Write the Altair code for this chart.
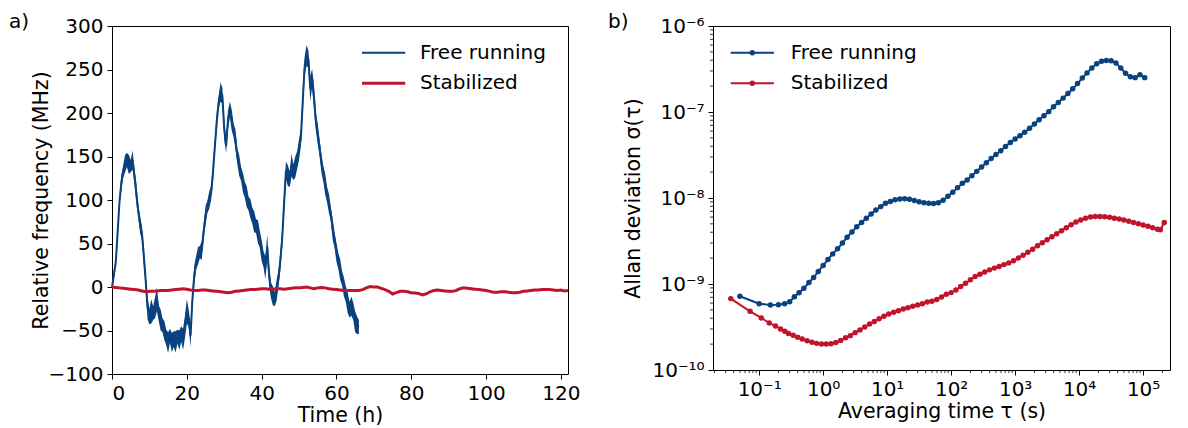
import altair as alt
import pandas as pd

FONT = "DejaVu Sans"
BLUE = "#0a427f"
RED = "#c0142c"
SERIES = ["Free running", "Stabilized"]

# ---------------- panel a: time series (MHz) ----------------
FREE_T = [0, 0.5, 1, 1.5, 2, 2.5, 3, 3.5, 4, 4.5,
          5, 5.5, 6, 6.5, 7, 7.5, 8, 8.5, 9, 9.5,
          10, 10.5, 11, 11.5, 12, 12.5, 13, 13.5, 14, 14.5,
          15, 15.5, 16, 16.5, 17, 17.5, 18, 18.5, 19, 19.5,
          20, 20.5, 21, 21.5, 22, 22.5, 23, 23.5, 24, 24.5,
          25, 25.5, 26, 26.5, 27, 27.5, 28, 28.5, 29, 29.5,
          30, 30.5, 31, 31.5, 32, 32.5, 33, 33.5, 34, 34.5,
          35, 35.5, 36, 36.5, 37, 37.5, 38, 38.5, 39, 39.5,
          40, 40.5, 41, 41.5, 42, 42.5, 43, 43.5, 44, 44.5,
          45, 45.5, 46, 46.5, 47, 47.5, 48, 48.5, 49, 49.5,
          50, 50.5, 51, 51.5, 52, 52.5, 53, 53.5, 54, 54.5,
          55, 55.5, 56, 56.5, 57, 57.5, 58, 58.5, 59, 59.5,
          60, 60.5, 61, 61.5, 62, 62.5, 63, 63.5, 64, 64.5,
          65, 65.5, 66]
FREE_V = [0, 14, 28, 62, 98, 120, 133, 142, 146, 141,
          139, 146, 128, 108, 88, 72, 62, 36, 8, -24,
          -34, -28, -30, -24, -14, -30, -38, -44, -50, -58,
          -64, -56, -64, -60, -63, -57, -61, -54, -60, -46,
          -28, -36, -56, -14, 14, 28, 36, 40, 42, 64,
          82, 92, 100, 108, 132, 162, 190, 212, 224, 220,
          182, 162, 192, 204, 192, 180, 170, 150, 140, 130,
          120, 112, 104, 96, 90, 82, 75, 70, 64, 55,
          42, 32, 22, 46, 14, -4, -10, -14, -4, 10,
          30, 56, 96, 134, 128, 124, 140, 132, 138, 146,
          158, 172, 214, 254, 266, 262, 228, 240, 218, 190,
          176, 160, 142, 130, 118, 106, 96, 84, 66, 54,
          40, 30, 20, 10, 0, -8, -18, -26, -22, -28,
          -40, -44, -46]
# half-width of the noise envelope around FREE_V
FREE_SPREAD = [3, 6, 5, 8, 6, 9, 7, 10, 8, 11,
               7, 11, 8, 12, 7, 10, 8, 11, 8, 13,
               9, 14, 8, 12, 14, 9, 12, 8, 11, 9,
               12, 8, 11, 9, 12, 8, 11, 9, 12, 13,
               14, 10, 13, 9, 11, 8, 10, 7, 11, 8,
               11, 7, 10, 8, 11, 8, 10, 7, 11, 9,
               12, 8, 11, 9, 12, 8, 11, 9, 12, 8,
               11, 9, 12, 8, 11, 9, 12, 8, 13, 10,
               12, 9, 13, 14, 12, 9, 11, 8, 12, 9,
               11, 9, 13, 10, 12, 9, 13, 9, 12, 10,
               12, 10, 14, 11, 12, 10, 14, 11, 13, 10,
               12, 9, 11, 9, 12, 9, 11, 8, 12, 9,
               11, 9, 12, 8, 11, 9, 12, 9, 11, 10,
               12, 10, 8]

STAB_T = list(range(0, 122)) + [121.9]
STAB_V = [0, -0.5, -1, -1.5, -2, -2.5, -3, -3.5, -4.5, -5.5,
          -5, -5, -4.5, -4, -4, -4, -3.5, -3, -2.5, -2,
          -2.5, -3.5, -4, -4, -3.5, -3.5, -4, -4.5, -5, -5.5,
          -6, -6.5, -6, -5, -4.5, -4, -3.5, -3, -3, -2.5,
          -2, -2, -2.5, -2.5, -2, -2, -2.5, -2, -1.5, -1,
          -1, -0.5, 0, -1, -2, -1, -0.5, -1, -2, -2.5,
          -3, -3.5, -4, -4, -4, -4, -4, -3, -1, 0.5,
          0, 0, -1.5, -3, -5, -8, -6.5, -5, -5, -5.5,
          -6.5, -7, -7.5, -9, -8, -5.5, -4, -3.5, -4, -4.5,
          -5, -5, -4, -2, -1, -1.5, -2, -2.5, -3, -3.5,
          -4, -5, -6, -6, -5.5, -5.5, -6, -6.5, -6.5, -6,
          -5, -4.5, -4, -3.5, -3.5, -3, -3, -3, -3.5, -4,
          -3.5, -4.5, -4]

A_XTICKS = [0, 20, 40, 60, 80, 100, 120]
A_YTICKS = [-100, -50, 0, 50, 100, 150, 200, 250, 300]

# ---------------- panel b: Allan deviation ----------------
FREE_TAU = [0.05, 0.10, 0.15, 0.20, 0.25, 0.30, 0.355, 0.42, 0.50, 0.60,
            0.71, 0.84, 1.0, 1.19, 1.41, 1.68, 2.0, 2.37, 2.82, 3.35,
            3.98, 4.73, 5.62, 6.68, 7.94, 9.44, 11.2, 13.3, 15.8, 18.8,
            22.4, 26.6, 31.6, 37.6, 44.7, 53.1, 63.1, 75.0, 89.1, 106,
            126, 150, 178, 211, 251, 299, 355, 422, 501, 596,
            708, 841, 1000, 1190, 1410, 1680, 2000, 2370, 2820, 3350,
            3980, 4730, 5620, 6680, 7940, 9440, 11200, 13300, 15800, 18800,
            22400, 26600, 31600, 37600, 44700, 53100, 63100, 75000, 89100, 106000]
FREE_ADEV = [7.2e-10, 5.9e-10, 5.7e-10, 5.75e-10, 5.9e-10, 6.2e-10, 7.1e-10, 7.9e-10, 8.9e-10, 1.04e-9,
             1.19e-9, 1.40e-9, 1.64e-9, 1.93e-9, 2.24e-9, 2.57e-9, 2.99e-9, 3.5e-9, 4.03e-9, 4.62e-9,
             5.19e-9, 5.82e-9, 6.53e-9, 7.24e-9, 7.94e-9, 8.71e-9, 9.12e-9, 9.55e-9, 9.73e-9, 9.82e-9,
             9.66e-9, 9.33e-9, 9.06e-9, 8.81e-9, 8.67e-9, 8.61e-9, 8.81e-9, 9.44e-9, 1.05e-8, 1.17e-8,
             1.32e-8, 1.48e-8, 1.62e-8, 1.82e-8, 2.04e-8, 2.29e-8, 2.57e-8, 2.88e-8, 3.20e-8, 3.55e-8,
             3.98e-8, 4.42e-8, 4.84e-8, 5.31e-8, 5.82e-8, 6.46e-8, 7.24e-8, 8.13e-8, 9.02e-8, 1.01e-7,
             1.15e-7, 1.29e-7, 1.45e-7, 1.64e-7, 1.86e-7, 2.14e-7, 2.48e-7, 2.85e-7, 3.24e-7, 3.63e-7,
             3.89e-7, 3.98e-7, 3.94e-7, 3.72e-7, 3.24e-7, 2.82e-7, 2.57e-7, 2.51e-7, 2.72e-7, 2.51e-7]

STAB_TAU = [0.036, 0.072, 0.108, 0.144, 0.18, 0.216, 0.252, 0.288, 0.34, 0.40,
            0.47, 0.56, 0.67, 0.79, 0.94, 1.12, 1.33, 1.58, 1.88, 2.24,
            2.66, 3.16, 3.76, 4.47, 5.31, 6.31, 7.5, 8.91, 10.6, 12.6,
            15.0, 17.8, 21.1, 25.1, 29.9, 35.5, 42.2, 50.1, 59.6, 70.8,
            84.1, 100, 119, 141, 168, 200, 237, 282, 335, 398,
            473, 562, 668, 794, 944, 1120, 1330, 1580, 1880, 2240,
            2660, 3160, 3760, 4470, 5310, 6310, 7500, 8910, 10600, 12600,
            15000, 17800, 21100, 25100, 29900, 35500, 42200, 50100, 59600, 70800,
            84100, 100000, 119000, 141000, 168000, 186000, 214000]
STAB_ADEV = [6.76e-10, 4.81e-10, 4.03e-10, 3.52e-10, 3.24e-10, 3.0e-10, 2.82e-10, 2.65e-10, 2.53e-10, 2.40e-10,
             2.29e-10, 2.19e-10, 2.10e-10, 2.04e-10, 2.0e-10, 2.0e-10, 2.02e-10, 2.09e-10, 2.21e-10, 2.37e-10,
             2.51e-10, 2.72e-10, 2.92e-10, 3.16e-10, 3.43e-10, 3.67e-10, 3.94e-10, 4.22e-10, 4.47e-10, 4.68e-10,
             4.90e-10, 5.12e-10, 5.31e-10, 5.5e-10, 5.69e-10, 5.89e-10, 6.17e-10, 6.31e-10, 6.61e-10, 7.08e-10,
             7.59e-10, 7.94e-10, 8.51e-10, 9.33e-10, 1.02e-9, 1.12e-9, 1.22e-9, 1.30e-9, 1.38e-9, 1.46e-9,
             1.53e-9, 1.60e-9, 1.68e-9, 1.76e-9, 1.86e-9, 2.0e-9, 2.16e-9, 2.34e-9, 2.54e-9, 2.79e-9,
             3.02e-9, 3.27e-9, 3.55e-9, 3.85e-9, 4.17e-9, 4.52e-9, 4.90e-9, 5.25e-9, 5.56e-9, 5.82e-9,
             6.0e-9, 6.1e-9, 6.1e-9, 6.05e-9, 5.96e-9, 5.82e-9, 5.69e-9, 5.56e-9, 5.37e-9, 5.19e-9,
             5.01e-9, 4.84e-9, 4.68e-9, 4.52e-9, 4.32e-9, 4.27e-9, 5.19e-9]

B_XTICKS = [0.1, 1, 10, 100, 1000, 10000, 100000]
B_YTICKS = [1e-10, 1e-9, 1e-8, 1e-7, 1e-6]
B_XMINOR = [m * 10.0 ** k for k in range(-2, 6) for m in range(2, 10)
            if 0.019 < m * 10.0 ** k < 2.6e5]
B_YMINOR = [m * 10.0 ** k for k in range(-10, -6) for m in range(2, 10)]

# ---------------- tables ----------------
a_band = pd.DataFrame({
    "t": FREE_T,
    "lo": [c - s for c, s in zip(FREE_V, FREE_SPREAD)],
    "hi": [c + s for c, s in zip(FREE_V, FREE_SPREAD)],
})
a_lines = pd.DataFrame({
    "t": FREE_T + STAB_T,
    "v": FREE_V + STAB_V,
    "series": [SERIES[0]] * len(FREE_T) + [SERIES[1]] * len(STAB_T),
})
b_lines = pd.DataFrame({
    "tau": FREE_TAU + STAB_TAU,
    "adev": FREE_ADEV + STAB_ADEV,
    "series": [SERIES[0]] * len(FREE_TAU) + [SERIES[1]] * len(STAB_TAU),
})

# legend symbols: small symbol box (12 px) so rows stay compact; path reaches beyond it
SYM_SIZE = 144
LINE_PATH = "M-3.6,0H3.6"
LINE_DOT_PATH = ("M-3.6,0H3.6"
                 "M-0.29,0A0.29,0.29,0,1,0,0.29,0A0.29,0.29,0,1,0,-0.29,0"
                 "M-0.12,0A0.12,0.12,0,1,0,0.12,0A0.12,0.12,0,1,0,-0.12,0")

# ---------------- panel a ----------------
W_A, H_A = 456, 348
xa_scale = alt.Scale(domain=[0, 121.9], nice=False, zero=False)
ya_scale = alt.Scale(domain=[-100, 300], nice=False, zero=False)
xa_axis = alt.Axis(values=A_XTICKS, title="Time (h)", titleY=41,
                   titleBaseline="middle", format="d")
ya_axis = alt.Axis(values=A_YTICKS, title="Relative frequency (MHz)",
                   titleX=-71, titleY=H_A / 2, titleAngle=-90,
                   titleBaseline="middle", titleAlign="center",
                   labelExpr="replace(datum.label, '-', '\u2212')")

band = alt.Chart(a_band).mark_area(color=BLUE, opacity=1, strokeWidth=0).encode(
    x=alt.X("t:Q", scale=xa_scale, axis=xa_axis),
    y=alt.Y("lo:Q", scale=ya_scale, axis=ya_axis),
    y2="hi:Q",
)
lines_a = alt.Chart(a_lines).mark_line().encode(
    x=alt.X("t:Q", scale=xa_scale, axis=xa_axis),
    y=alt.Y("v:Q", scale=ya_scale, axis=ya_axis),
    color=alt.Color("series:N", scale=alt.Scale(domain=SERIES, range=[BLUE, RED]),
                    legend=alt.Legend(title=None, orient="none", legendX=261.6, legendY=16.7,
                                      symbolType=LINE_PATH, symbolSize=SYM_SIZE,
                                      symbolStrokeWidth=2, labelOffset=26.4,
                                      rowPadding=10.6, labelFontSize=20, labelFont=FONT,
                                      labelColor="black", padding=0)),
    strokeWidth=alt.StrokeWidth("series:N", scale=alt.Scale(domain=SERIES, range=[2, 3]),
                                legend=None),
)
label_a = alt.Chart(pd.DataFrame({"txt": ["a)"]})).mark_text(
    align="left", baseline="alphabetic", fontSize=20, font=FONT, color="black"
).encode(x=alt.value(-103), y=alt.value(2), text="txt:N")

panel_a = alt.layer(band, lines_a, label_a).properties(width=W_A, height=H_A)

# ---------------- panel b ----------------
W_B, H_B = 457, 344
xb_scale = alt.Scale(type="log", domain=[0.019, 263000], nice=False)
yb_scale = alt.Scale(type="log", domain=[1e-10, 1e-6], nice=False)
xb_axis = alt.Axis(values=B_XTICKS, title="Averaging time \u03c4 (s)", titleY=41,
                   titleBaseline="middle",
                   labelExpr="['10\u207b\u00b2','10\u207b\u00b9','10\u2070','10\u00b9','10\u00b2','10\u00b3','10\u2074','10\u2075'][round(log(datum.value)/LN10)+2]")
yb_axis = alt.Axis(values=B_YTICKS, title="Allan deviation \u03c3(\u03c4)",
                   titleX=-80, titleY=H_B / 2, titleAngle=-90,
                   titleBaseline="middle", titleAlign="center",
                   labelExpr="['10\u207b\u00b9\u2070','10\u207b\u2079','10\u207b\u2078','10\u207b\u2077','10\u207b\u2076'][round(log(datum.value)/LN10)+10]")

lines_b = alt.Chart(b_lines).mark_line(
    strokeWidth=2, point=alt.OverlayMarkDef(filled=True, size=30)
).encode(
    x=alt.X("tau:Q", scale=xb_scale, axis=xb_axis),
    y=alt.Y("adev:Q", scale=yb_scale, axis=yb_axis),
    color=alt.Color("series:N", scale=alt.Scale(domain=SERIES, range=[BLUE, RED]),
                    legend=alt.Legend(title=None, orient="none", legendX=29.3, legendY=16.7,
                                      symbolType=LINE_DOT_PATH, symbolSize=SYM_SIZE,
                                      symbolStrokeWidth=2, labelOffset=28.4,
                                      rowPadding=10.6, labelFontSize=20, labelFont=FONT,
                                      labelColor="black", padding=0)),
)
xminor = alt.Chart(pd.DataFrame({"tau": B_XMINOR})).mark_rule(
    color="black", strokeWidth=0.8
).encode(x=alt.X("tau:Q", scale=xb_scale, axis=xb_axis),
         y=alt.value(H_B), y2=alt.value(H_B + 3))
yminor = alt.Chart(pd.DataFrame({"adev": B_YMINOR})).mark_rule(
    color="black", strokeWidth=0.8
).encode(y=alt.Y("adev:Q", scale=yb_scale, axis=yb_axis),
         x=alt.value(0), x2=alt.value(-3))
label_b = alt.Chart(pd.DataFrame({"txt": ["b)"]})).mark_text(
    align="left", baseline="alphabetic", fontSize=20, font=FONT, color="black"
).encode(x=alt.value(-105), y=alt.value(2), text="txt:N")

panel_b = alt.layer(xminor, yminor, lines_b, label_b).properties(width=W_B, height=H_B)

chart = alt.hconcat(panel_a, panel_b, spacing=26).resolve_scale(
    color="independent", strokeWidth="independent"
).properties(
    padding={"left": 0, "top": 3, "right": 0, "bottom": 0}
).configure(font=FONT).configure_view(
    stroke="black", strokeWidth=1
).configure_axis(
    labelFont=FONT, titleFont=FONT, labelFontSize=20, titleFontSize=20.5,
    labelColor="black", titleColor="black", tickColor="black",
    tickSize=5, tickWidth=1, labelPadding=4, domain=False, grid=False,
    titleFontWeight="normal"
).configure_legend(labelFont=FONT, labelFontSize=20)

chart.save("out.html", embed_options={"renderer": "svg", "actions": False})
